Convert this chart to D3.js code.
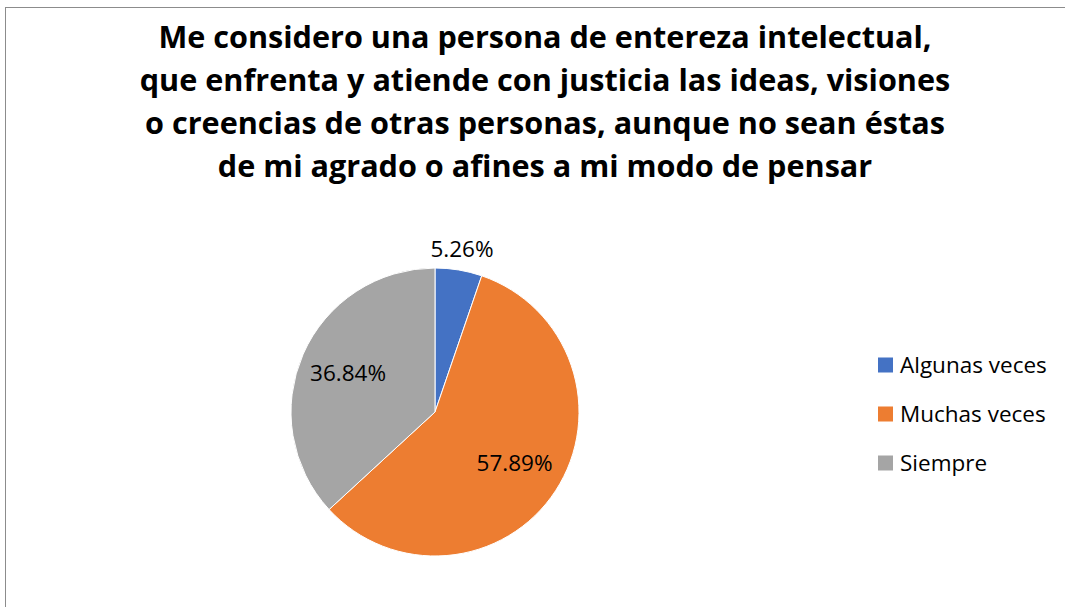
<!DOCTYPE html>
<html>
<head>
<meta charset="utf-8">
<script src="https://cdn.jsdelivr.net/npm/d3@7"></script>
<style>
  body { margin: 0; background: #fff; }
  svg { display: block; font-family: "Open Sans", sans-serif; }
</style>
</head>
<body>
<div id="chart"></div>
<script>
// chart data
var titleLines = [
  "Me considero una persona de entereza intelectual,",
  "que enfrenta y atiende con justicia las ideas, visiones",
  "o creencias de otras personas, aunque no sean éstas",
  "de mi agrado o afines a mi modo de pensar"
];
var categories = ["Algunas veces", "Muchas veces", "Siempre"];
var values = [5.26, 57.89, 36.84];
var colors = ["#4472C4", "#ED7D31", "#A5A5A5"];

var width = 1065, height = 607;
var cx = 435, cy = 412, radius = 144;

var svg = d3.select("#chart")
  .append("svg")
  .attr("width", width)
  .attr("height", height);

// chart frame
svg.append("rect")
  .attr("x", 5.5).attr("y", 7.5)
  .attr("width", 1070).attr("height", 620)
  .attr("fill", "none")
  .attr("stroke", "#8c8c8c")
  .attr("stroke-width", 1);

// title
svg.append("g")
  .selectAll("text")
  .data(titleLines)
  .enter()
  .append("text")
  .attr("x", 545)
  .attr("y", (d, i) => 48 + i * 43)
  .attr("text-anchor", "middle")
  .style("font-size", "30.6px")
  .style("font-weight", "bold")
  .attr("fill", "#000")
  .text(d => d);

var color = d3.scaleOrdinal().domain(categories).range(colors);

var pie = d3.pie().sort(null).value(d => d);
var arcs = pie(values);

var g = svg.append("g")
  .attr("transform", "translate(" + cx + "," + cy + ")");

g.selectAll("path")
  .data(arcs)
  .enter()
  .append("path")
  .attr("d", d3.arc().innerRadius(0).outerRadius(radius))
  .attr("fill", (d, i) => color(categories[i]))
  .attr("stroke", "#fff")
  .style("stroke-width", "1px");

// labels: small slice outside, others inside
var insideArc = d3.arc().innerRadius(95 * 2).outerRadius(0);
var outsideArc = d3.arc().innerRadius(164 * 2).outerRadius(0);

g.selectAll("text.lbl")
  .data(arcs)
  .enter()
  .append("text")
  .attr("class", "lbl")
  .attr("transform", d => "translate(" + ((d.value < 10 ? outsideArc : insideArc).centroid(d)) + ")")
  .attr("text-anchor", "middle")
  .attr("dy", "0.3em")
  .style("font-size", "22.5px")
  .attr("fill", "#000")
  .text(d => d.value.toFixed(2) + "%");

// legend
var legend = svg.append("g")
  .selectAll("g")
  .data(categories)
  .enter()
  .append("g")
  .attr("transform", (d, i) => "translate(878," + (365 + i * 49) + ")");

legend.append("rect")
  .attr("x", 0).attr("y", -7.5)
  .attr("width", 15).attr("height", 15)
  .attr("fill", d => color(d));

legend.append("text")
  .attr("x", 22)
  .attr("dy", "0.35em")
  .style("font-size", "22.5px")
  .attr("fill", "#000")
  .text(d => d);
</script>
</body>
</html>
